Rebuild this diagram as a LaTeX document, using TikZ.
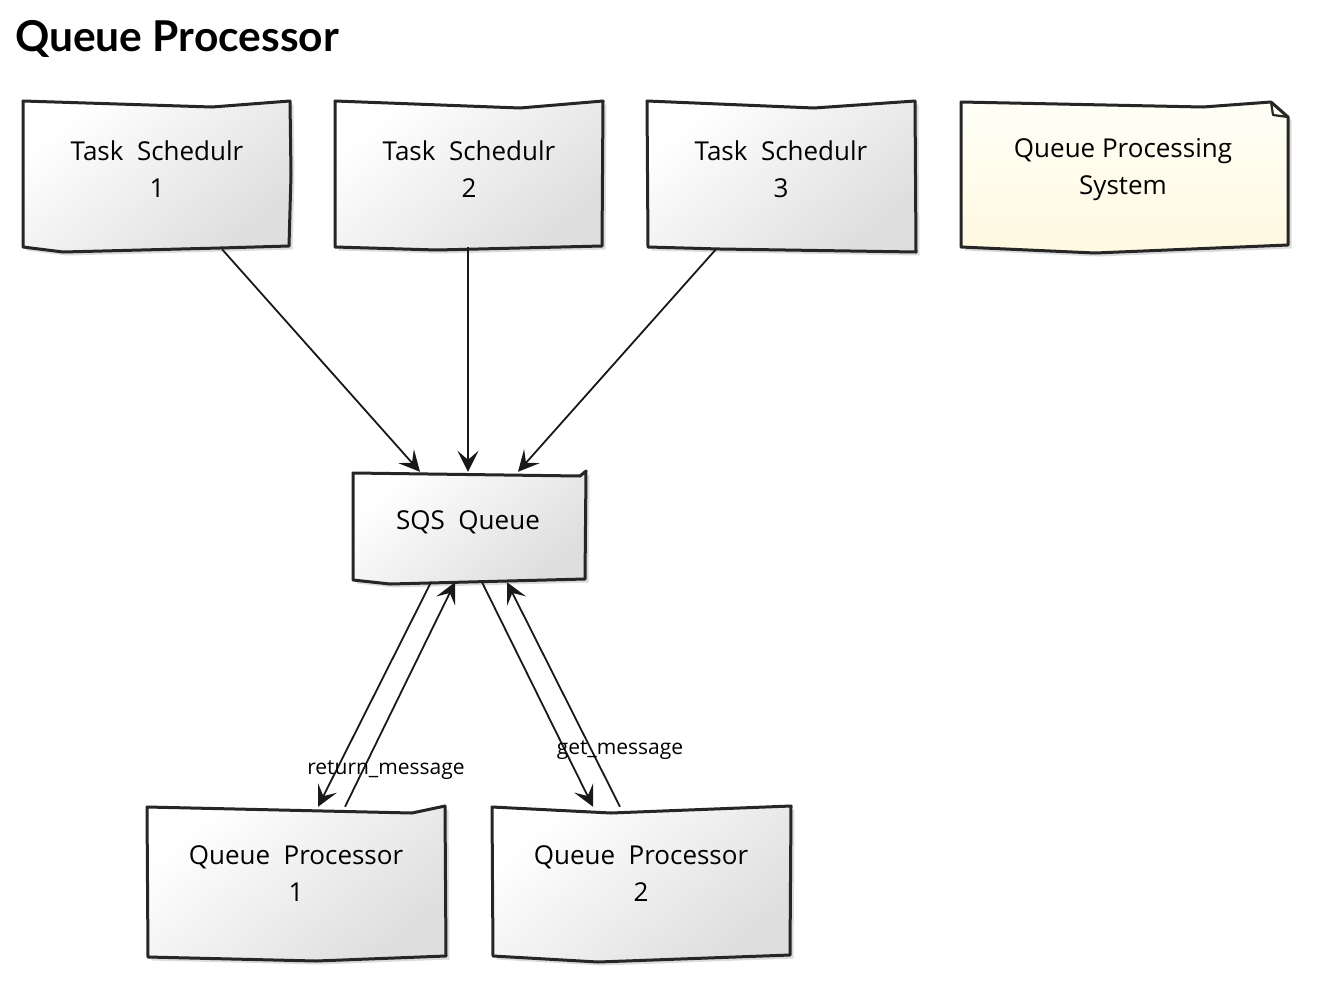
\documentclass[tikz,border=0pt]{standalone}
\usepackage{fontspec}
\setmainfont{Open Sans}
\newfontfamily\titlefont{Lato}
\usetikzlibrary{arrows.meta,shadows,calc}
\tikzset{
  boxshape/.style={draw=black!85, line width=3pt, line join=round,
    top color=white, bottom color=black!13, shading angle=40,
    drop shadow={shadow xshift=3.5pt, shadow yshift=-3.5pt, fill=black, opacity=0.14}},
  noteshape/.style={boxshape, top color=white!60!yellow!8, bottom color=yellow!60!orange!12},
  anchorbox/.style={rectangle, draw=none, inner sep=0pt},
  boxtext/.style={align=center, font=\fontsize{26}{37}\selectfont, text=black},
  lbl/.style={font=\fontsize{21}{22}\selectfont, text=black, inner sep=0pt},
  conn/.style={line width=1.8pt, draw=black!90, -{Stealth[length=21pt,width=21pt,inset=9pt]}}
}
\begin{document}
\begin{tikzpicture}[x=1pt,y=-1pt]
\useasboundingbox (0,0) rectangle (1322,980);
\fill[white] (0,0) rectangle (1322,980);

% title
\node[anchor=base west, inner sep=0pt, font=\titlefont\bfseries\fontsize{42.5}{42.5}\selectfont] (title) at (15,51) {Queue Processor};

% outlines
\path[boxshape] (23,101) -- (212,107) -- (290,101) -- (291,175) -- (289,246) -- (220,248) -- (63,252) -- (23,247) -- cycle;
\path[boxshape] (335,101) -- (520,108) -- (603,101) -- (602,246) -- (437,250) -- (335,247) -- cycle;
\path[boxshape] (647,101) -- (814,108) -- (915,101) -- (916,252) -- (720,249) -- (648,247) -- cycle;
\path[noteshape] (961,102) -- (1203,107) -- (1271,102) -- (1288,117) -- (1288,245) -- (1095,253) -- (961,247) -- cycle;
\draw[line width=2.2pt, black!85, line join=round] (1271,102) -- (1273,115) -- (1288,117);
\path[boxshape] (353,473) -- (580,476) -- (586,471) -- (585,579) -- (390,584) -- (353,580) -- cycle;
\path[boxshape] (147,807) -- (412,813) -- (445,806) -- (446,956) -- (316,961) -- (148,957) -- cycle;
\path[boxshape] (492,807) -- (611,813) -- (791,806) -- (790,955) -- (598,962) -- (493,956) -- cycle;

% anchor boxes
\node[anchorbox, minimum width=267pt, minimum height=148pt] (ts1) at (156.5,175) {};
\node[anchorbox, minimum width=268pt, minimum height=146pt] (ts2) at (469,174) {};
\node[anchorbox, minimum width=267pt, minimum height=148pt] (ts3) at (781.5,175) {};
\node[anchorbox, minimum width=327pt, minimum height=148pt] (note) at (1124.5,176) {};
\node[anchorbox, minimum width=232pt, minimum height=110pt] (sqs) at (469,527) {};
\node[anchorbox, minimum width=299pt, minimum height=151pt] (qp1) at (296.5,882.5) {};
\node[anchorbox, minimum width=299pt, minimum height=151pt] (qp2) at (641.5,882.5) {};

% texts
\node[boxtext] (ts1t) at (157,169) {Task\ \ Schedulr\\1};
\node[boxtext] (ts2t) at (469,169) {Task\ \ Schedulr\\2};
\node[boxtext] (ts3t) at (781,169) {Task\ \ Schedulr\\3};
\node[boxtext] (notet) at (1123,170) {Queue\ Processing\\System};
\node[boxtext] (sqst) at (468,522) {SQS\ \ Queue};
\node[boxtext] (qp1t) at (296,874) {Queue\ \ Processor\\1};
\node[boxtext] (qp2t) at (641,874) {Queue\ \ Processor\\2};

% connectors
\draw[conn] ([xshift=65.5pt]ts1.south) -- ([xshift=-49pt]sqs.north);
\draw[conn] ([xshift=-1pt]ts2.south) -- ([xshift=-1pt]sqs.north);
\draw[conn] ([xshift=-65.5pt]ts3.south) -- ([xshift=49pt]sqs.north);

\draw[conn] ([xshift=-38pt]sqs.south) -- ([xshift=21.5pt]qp1.north);
\draw[conn] ([xshift=48.5pt]qp1.north) -- ([xshift=-14pt]sqs.south);
\draw[conn] ([xshift=13pt]sqs.south) -- ([xshift=-48.5pt]qp2.north);
\draw[conn] ([xshift=-21.5pt]qp2.north) -- ([xshift=38pt]sqs.south);

% labels
\node[lbl] (lret) at (386,770) {return\_message};
\node[lbl] (lget) at (620,750) {get\_message};
\end{tikzpicture}
\end{document}
